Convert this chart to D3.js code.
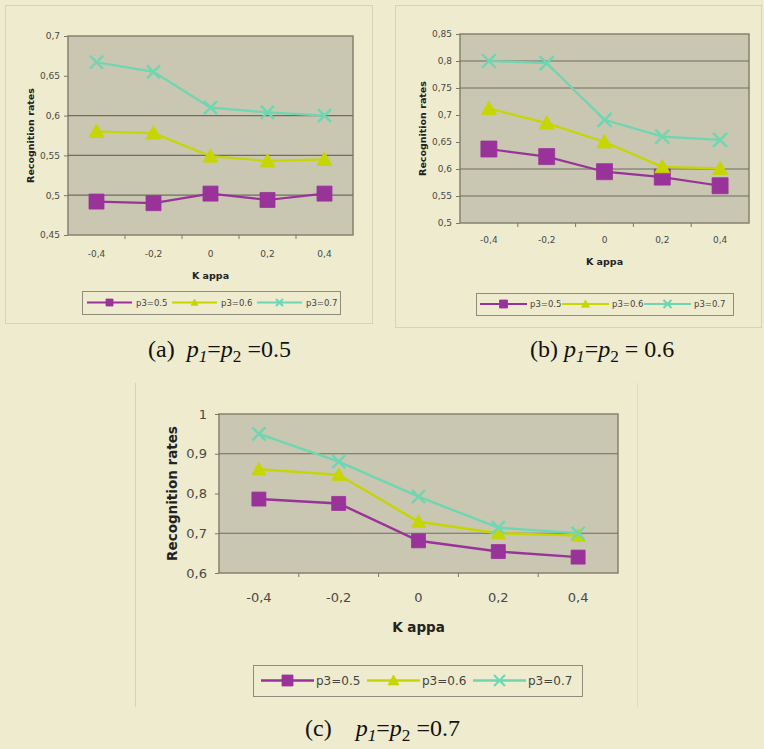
<!DOCTYPE html>
<html>
<head>
<meta charset="utf-8">
<script src="https://cdn.jsdelivr.net/npm/d3@7"></script>
<style>
  html, body { margin: 0; padding: 0; background: #eeebcf; }
  svg { display: block; }
</style>
</head>
<body>
<svg id="fig" width="764" height="749"></svg>
<script>
// Kappa values on the category axis
const kappa = [-0.4, -0.2, 0, 0.2, 0.4];
const seriesNames = ["p3=0.5", "p3=0.6", "p3=0.7"];

// (a) p1 = p2 = 0.5
const rateA_p05 = [0.492, 0.490, 0.502, 0.494, 0.502];
const rateA_p06 = [0.580, 0.578, 0.549, 0.543, 0.545];
const rateA_p07 = [0.667, 0.655, 0.610, 0.604, 0.600];
// (b) p1 = p2 = 0.6
const rateB_p05 = [0.637, 0.623, 0.595, 0.585, 0.569];
const rateB_p06 = [0.712, 0.685, 0.650, 0.604, 0.601];
const rateB_p07 = [0.800, 0.796, 0.691, 0.660, 0.654];
// (c) p1 = p2 = 0.7
const rateC_p05 = [0.786, 0.775, 0.681, 0.654, 0.640];
const rateC_p06 = [0.861, 0.847, 0.729, 0.700, 0.694];
const rateC_p07 = [0.950, 0.880, 0.792, 0.714, 0.700];

// y-axis tick values and the gridlines drawn in each panel
const ticksA = [0.45, 0.5, 0.55, 0.6, 0.65, 0.7];
const ticksB = [0.5, 0.55, 0.6, 0.65, 0.7, 0.75, 0.8, 0.85];
const ticksC = [0.6, 0.7, 0.8, 0.9, 1];
const gridA = [0.5, 0.55, 0.6];
const gridB = [0.55, 0.6, 0.75, 0.8];
const gridC = [0.7, 0.9];

const captionA = { tag: "(a)  ", value: " =0.5" };
const captionB = { tag: "(b) ", value: " = 0.6" };
const captionC = { tag: "(c)    ", value: " =0.7" };

const colors = ["#993399", "#c6d600", "#6fd6b2"];
const markers = ["square", "triangle", "x"];

// Comma decimal separator on the axes
const fmt = d3.formatLocale({ decimal: ",", thousands: ".", grouping: [3], currency: ["", ""], minus: "-" }).format("~g");

const svg = d3.select("#fig");
const SANS = "'DejaVu Sans', 'Noto Sans', sans-serif";
const SERIF = "'Liberation Serif', 'DejaVu Serif', serif";

// Panel frames
svg.append("rect").attr("x", 5.5).attr("y", 5.5).attr("width", 367).attr("height", 318)
  .attr("fill", "none").attr("stroke", "#d6d3bb");
svg.append("rect").attr("x", 395.5).attr("y", 5.5).attr("width", 366).attr("height", 322)
  .attr("fill", "none").attr("stroke", "#d6d3bb");
svg.append("line").attr("x1", 135.5).attr("x2", 135.5).attr("y1", 383).attr("y2", 707)
  .attr("stroke", "#d6d3bb");
svg.append("line").attr("x1", 637.5).attr("x2", 637.5).attr("y1", 383).attr("y2", 707)
  .attr("stroke", "#dedbc4");

const panels = [
  {
    series: [rateA_p05, rateA_p06, rateA_p07], ticks: ticksA, grid: gridA,
    plot: { x0: 68, x1: 353, y0: 36, y1: 235 },
    tickFont: 9, titleFont: 9.5, legendFont: 8.5,
    markSize: { square: 15, triangle: 15, x: 13 }, lineW: 2.2,
    xLabelDy: 22, kappaY: 279, recogX: 30,
    legend: { x: 82, y: 291, w: 258, h: 23, first: 5, step: 85, line: 45, textOff: 49, mark: 7 },
    caption: captionA, capX: 148, capY: 357, capFont: 24
  },
  {
    series: [rateB_p05, rateB_p06, rateB_p07], ticks: ticksB, grid: gridB,
    plot: { x0: 460, x1: 749, y0: 34, y1: 223 },
    tickFont: 9, titleFont: 9.5, legendFont: 8.5,
    markSize: { square: 16, triangle: 15, x: 14 }, lineW: 2.2,
    xLabelDy: 20, kappaY: 265, recogX: 422,
    legend: { x: 476, y: 293, w: 257, h: 22, first: 4, step: 82, line: 47, textOff: 50, mark: 8 },
    caption: captionB, capX: 530, capY: 357, capFont: 24
  },
  {
    series: [rateC_p05, rateC_p06, rateC_p07], ticks: ticksC, grid: gridC,
    plot: { x0: 219, x1: 618, y0: 414, y1: 573 },
    tickFont: 13, titleFont: 13.5, legendFont: 12,
    markSize: { square: 14, triangle: 14, x: 13 }, lineW: 2.4,
    xLabelDy: 29, kappaY: 632, recogX: 172,
    legend: { x: 253, y: 665, w: 329, h: 31, first: 8, step: 106, line: 53, textOff: 55, mark: 11 },
    caption: captionC, capX: 305, capY: 736, capFont: 24
  }
];

function markerPath(kind, s) {
  const h = s / 2;
  if (kind === "square") return `M${-h},${-h}H${h}V${h}H${-h}Z`;
  if (kind === "triangle") return `M0,${-h}L${h},${h * 0.8}L${-h},${h * 0.8}Z`;
  return `M${-h},${-h}L${h},${h}M${h},${-h}L${-h},${h}`;
}

function drawMarker(g, kind, color, s, sw) {
  const p = g.append("path").attr("d", markerPath(kind, s));
  if (kind === "x") p.attr("fill", "none").attr("stroke", color).attr("stroke-width", sw);
  else p.attr("fill", color).attr("stroke", color).attr("stroke-width", 0.8);
  return p;
}

panels.forEach(P => {
  const { x0, x1, y0, y1 } = P.plot;
  const x = d3.scaleBand().domain(kappa).range([x0, x1]).padding(0);
  const y = d3.scaleLinear().domain(d3.extent(P.ticks)).range([y1, y0]);
  const g = svg.append("g");

  // plot area
  g.append("rect").attr("x", x0).attr("y", y0).attr("width", x1 - x0).attr("height", y1 - y0)
    .attr("fill", "#c9c6b2").attr("stroke", "#85836f").attr("stroke-width", 1.5);

  // gridlines
  g.selectAll(".grid").data(P.grid).join("line")
    .attr("x1", x0).attr("x2", x1)
    .attr("y1", d => y(d)).attr("y2", d => y(d))
    .attr("stroke", "#6f6d60").attr("stroke-width", 1.2);

  // y axis
  const ya = g.append("g").attr("transform", `translate(${x0},0)`)
    .call(d3.axisLeft(y).tickValues(P.ticks).tickFormat(fmt).tickSize(4).tickPadding(P.tickFont > 10 ? 8 : 4));
  ya.select(".domain").remove();
  ya.selectAll("line").attr("stroke", "#7a7868");
  ya.selectAll("text").attr("font-family", SANS).attr("font-size", P.tickFont).attr("fill", "#4a4a44");

  // x axis: tick marks between categories, labels at category centres
  const boundaries = kappa.slice(1).map(k => x(k));
  g.selectAll(".xt").data(boundaries).join("line")
    .attr("x1", d => d).attr("x2", d => d).attr("y1", y1).attr("y2", y1 + 4)
    .attr("stroke", "#7a7868");
  g.selectAll(".xl").data(kappa).join("text")
    .attr("x", d => x(d) + x.bandwidth() / 2).attr("y", y1 + P.xLabelDy)
    .attr("text-anchor", "middle").attr("font-family", SANS).attr("font-size", P.tickFont)
    .attr("fill", "#4a4a44").text(d => fmt(d));

  // axis titles
  g.append("text").attr("x", (x0 + x1) / 2).attr("y", P.kappaY)
    .attr("text-anchor", "middle").attr("font-family", SANS).attr("font-weight", "bold")
    .attr("font-size", P.titleFont).attr("fill", "#222").text("K appa");
  g.append("text").attr("transform", `translate(${P.recogX},${(y0 + y1) / 2}) rotate(-90)`)
    .attr("text-anchor", "middle").attr("dominant-baseline", "central")
    .attr("font-family", SANS).attr("font-weight", "bold")
    .attr("font-size", P.titleFont).attr("fill", "#222").text("Recognition rates");

  // series lines and markers
  const line = d3.line().x((d, i) => x(kappa[i]) + x.bandwidth() / 2).y(d => y(d));
  P.series.forEach((vals, si) => {
    g.append("path").datum(vals).attr("d", line)
      .attr("fill", "none").attr("stroke", colors[si]).attr("stroke-width", P.lineW);
  });
  P.series.forEach((vals, si) => {
    vals.forEach((v, i) => {
      const m = g.append("g")
        .attr("transform", `translate(${x(kappa[i]) + x.bandwidth() / 2},${y(v)})`);
      drawMarker(m, markers[si], colors[si], P.markSize[markers[si]], 2.4);
    });
  });

  // legend
  const L = P.legend;
  g.append("rect").attr("x", L.x + 0.5).attr("y", L.y + 0.5).attr("width", L.w).attr("height", L.h)
    .attr("fill", "#eeebcf").attr("stroke", "#8e8c7c");
  seriesNames.forEach((name, si) => {
    const sx = L.x + L.first + si * L.step;
    const cy = L.y + L.h / 2;
    g.append("line").attr("x1", sx).attr("x2", sx + L.line).attr("y1", cy).attr("y2", cy)
      .attr("stroke", colors[si]).attr("stroke-width", P.lineW);
    const m = g.append("g").attr("transform", `translate(${sx + L.line / 2},${cy})`);
    drawMarker(m, markers[si], colors[si], L.mark, 2);
    g.append("text").attr("x", sx + L.textOff).attr("y", cy).attr("dominant-baseline", "central")
      .attr("font-family", SANS).attr("font-size", P.legendFont).attr("fill", "#444").text(name);
  });

  // caption
  const c = svg.append("text").attr("x", P.capX).attr("y", P.capY)
    .attr("font-family", SERIF).attr("font-size", P.capFont).attr("fill", "#111")
    .attr("xml:space", "preserve").style("white-space", "pre");
  c.append("tspan").text(P.caption.tag);
  c.append("tspan").attr("font-style", "italic").text("p");
  c.append("tspan").attr("font-style", "italic").attr("font-size", P.capFont * 0.72).attr("dy", 5).text("1");
  c.append("tspan").attr("dy", -5).text("=");
  c.append("tspan").attr("font-style", "italic").text("p");
  c.append("tspan").attr("font-size", P.capFont * 0.72).attr("dy", 5).text("2");
  c.append("tspan").attr("dy", -5).text(P.caption.value);
});
</script>
</body>
</html>
